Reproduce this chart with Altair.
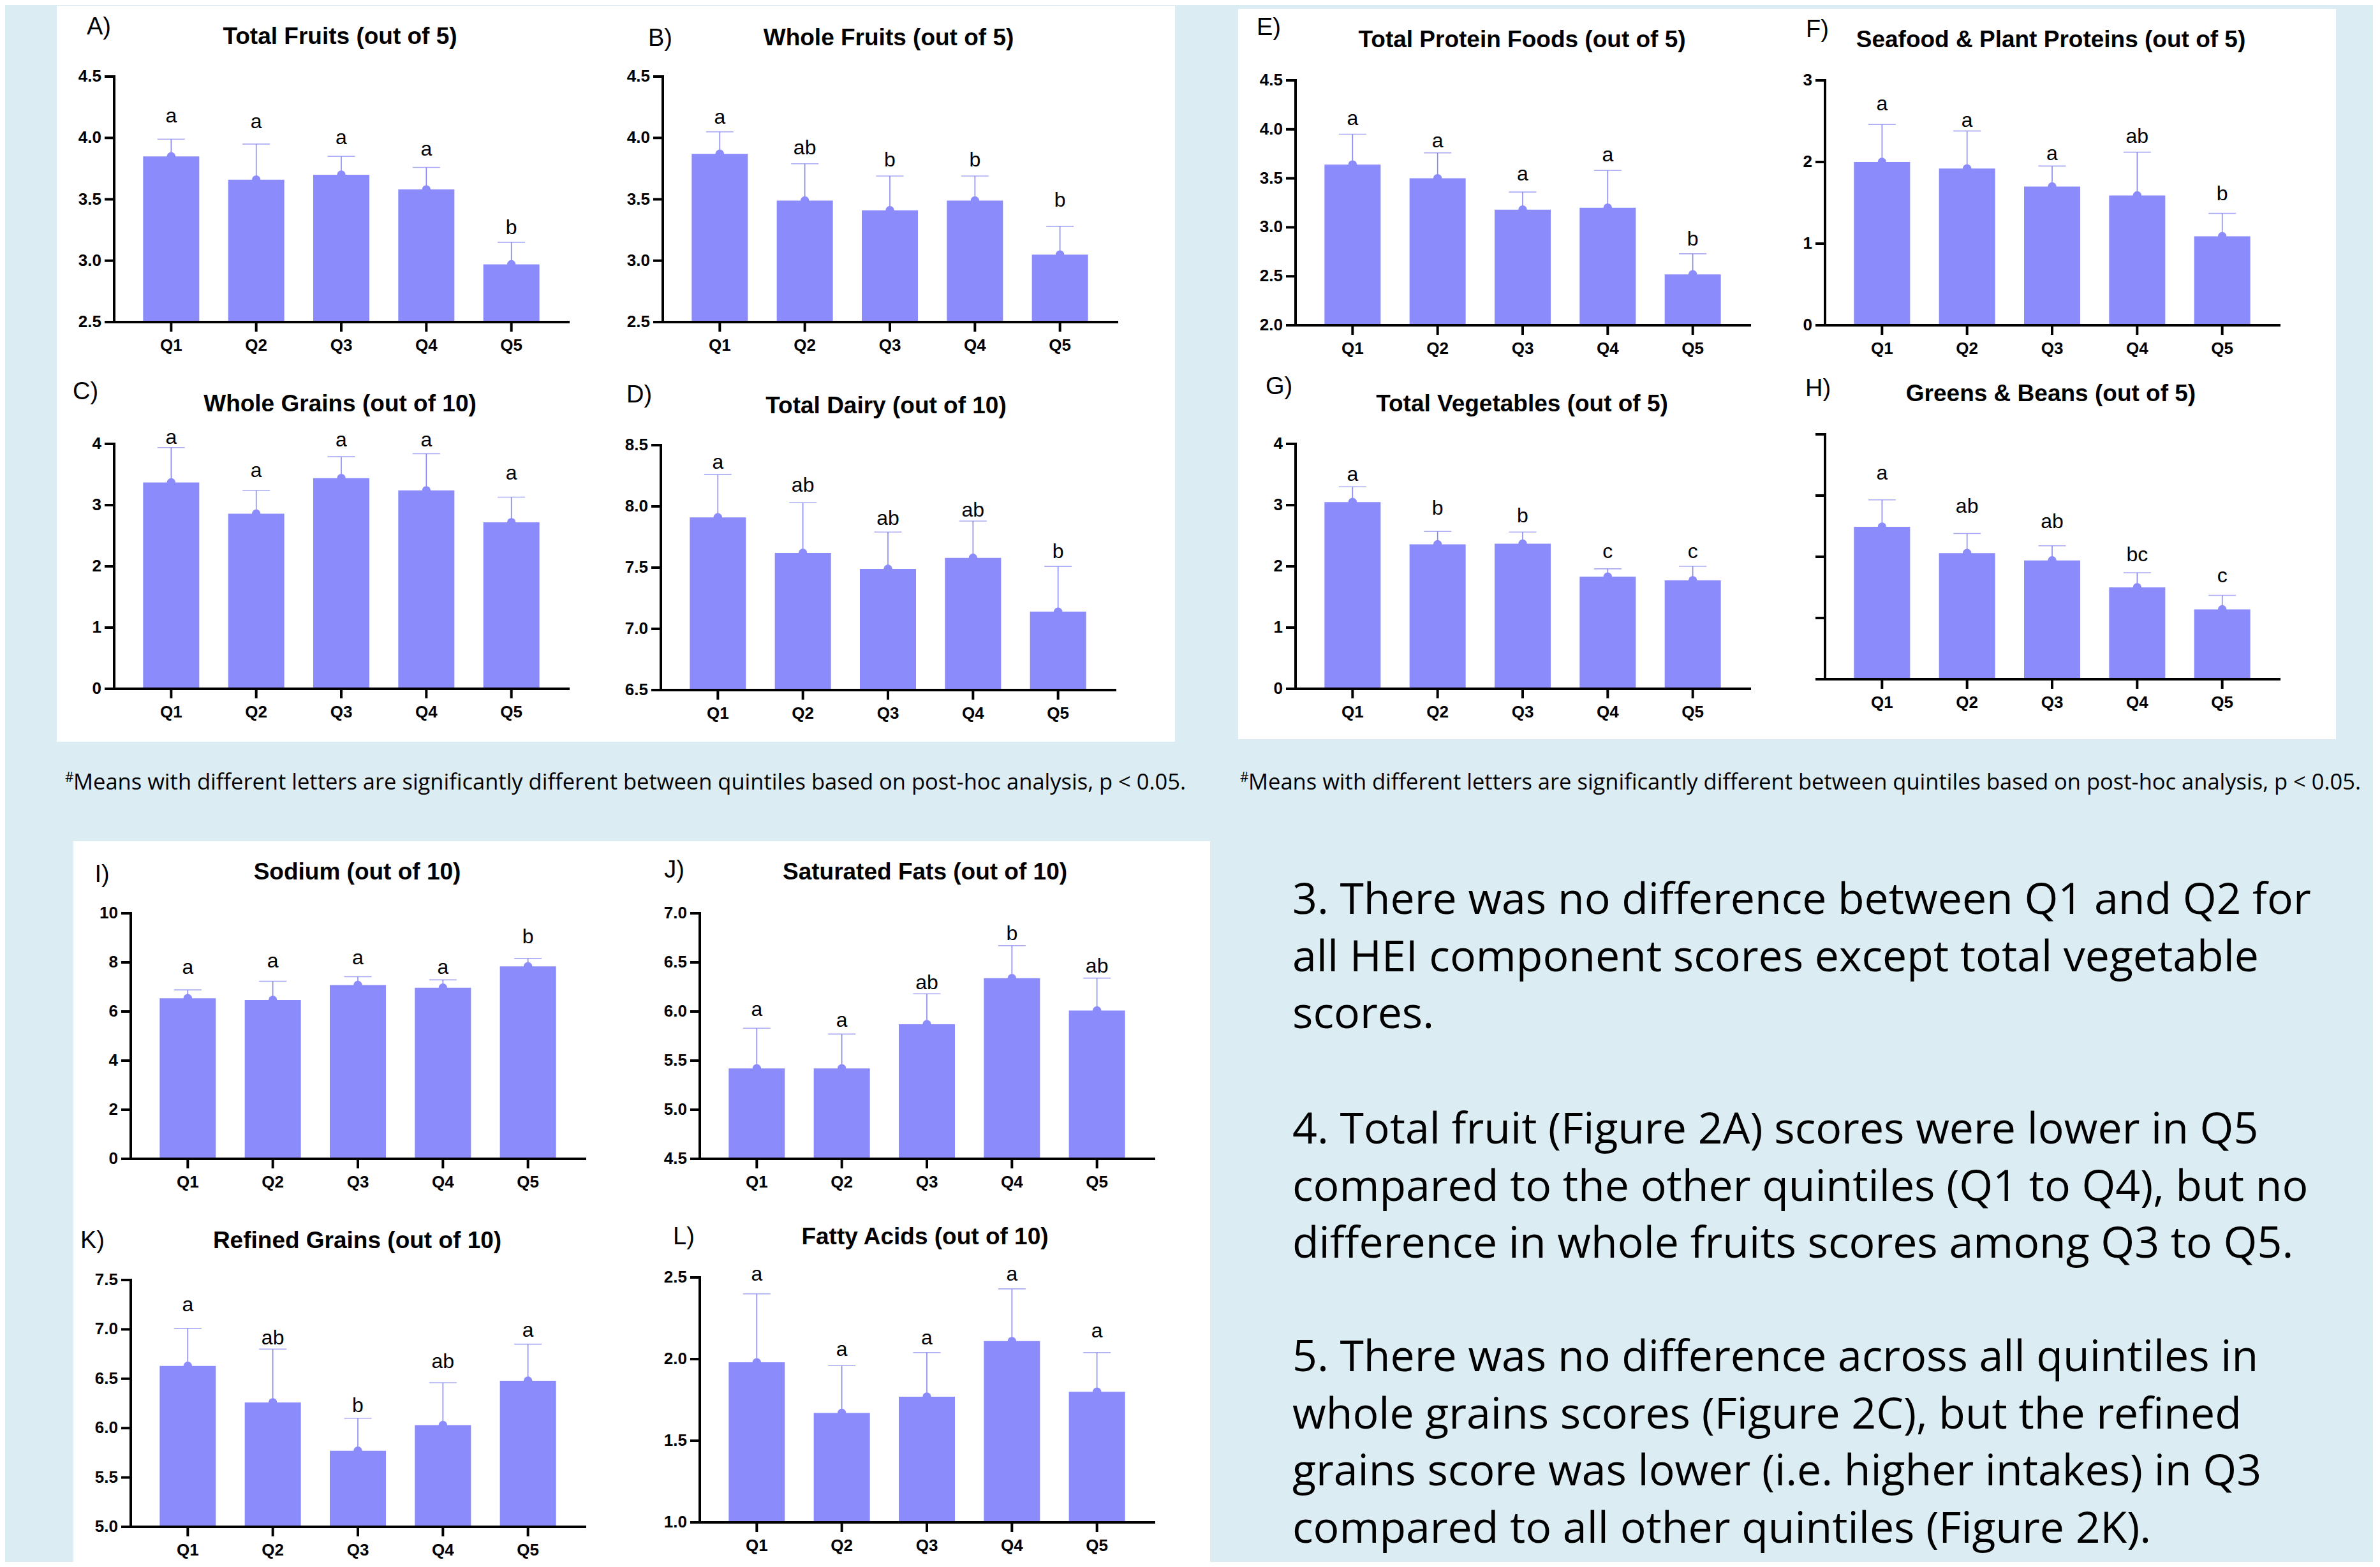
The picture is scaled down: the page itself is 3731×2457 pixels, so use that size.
import altair as alt
import pandas as pd

QUINTILES = ["Q1", "Q2", "Q3", "Q4", "Q5"]

# ---- data (means, top of error bar, letter, letter height) ----
A_title = "Total Fruits (out of 5)"
A_means = [3.85, 3.66, 3.70, 3.58, 2.97]
A_caps = [3.99, 3.95, 3.85, 3.76, 3.15]
A_letters = ["a", "a", "a", "a", "b"]
A_letter_y = [4.18, 4.13, 4.00, 3.91, 3.27]

B_title = "Whole Fruits (out of 5)"
B_means = [3.87, 3.49, 3.41, 3.49, 3.05]
B_caps = [4.05, 3.79, 3.69, 3.69, 3.28]
B_letters = ["a", "ab", "b", "b", "b"]
B_letter_y = [4.17, 3.92, 3.82, 3.82, 3.49]

C_title = "Whole Grains (out of 10)"
C_means = [3.37, 2.86, 3.44, 3.24, 2.72]
C_caps = [3.94, 3.24, 3.79, 3.84, 3.13]
C_letters = ["a", "a", "a", "a", "a"]
C_letter_y = [4.10, 3.56, 4.06, 4.06, 3.52]

D_title = "Total Dairy (out of 10)"
D_means = [7.91, 7.62, 7.49, 7.58, 7.14]
D_caps = [8.26, 8.03, 7.79, 7.88, 7.51]
D_letters = ["a", "ab", "ab", "ab", "b"]
D_letter_y = [8.36, 8.17, 7.90, 7.97, 7.63]

E_title = "Total Protein Foods (out of 5)"
E_means = [3.64, 3.50, 3.18, 3.20, 2.52]
E_caps = [3.95, 3.76, 3.36, 3.58, 2.73]
E_letters = ["a", "a", "a", "a", "b"]
E_letter_y = [4.11, 3.88, 3.54, 3.74, 2.88]

F_title = "Seafood & Plant Proteins (out of 5)"
F_means = [2.00, 1.92, 1.70, 1.59, 1.09]
F_caps = [2.46, 2.38, 1.95, 2.12, 1.37]
F_letters = ["a", "a", "a", "ab", "b"]
F_letter_y = [2.71, 2.51, 2.10, 2.31, 1.61]

G_title = "Total Vegetables (out of 5)"
G_means = [3.05, 2.36, 2.37, 1.83, 1.77]
G_caps = [3.30, 2.57, 2.56, 1.96, 2.00]
G_letters = ["a", "b", "b", "c", "c"]
G_letter_y = [3.50, 2.95, 2.82, 2.24, 2.24]

H_title = "Greens & Beans (out of 5)"
H_means = [2.49, 2.06, 1.94, 1.50, 1.14]
H_caps = [2.93, 2.38, 2.18, 1.74, 1.37]
H_letters = ["a", "ab", "ab", "bc", "c"]
H_letter_y = [3.36, 2.82, 2.57, 2.03, 1.69]

I_title = "Sodium (out of 10)"
I_means = [6.54, 6.47, 7.08, 6.97, 7.84]
I_caps = [6.88, 7.23, 7.42, 7.29, 8.16]
I_letters = ["a", "a", "a", "a", "b"]
I_letter_y = [7.79, 8.05, 8.18, 7.79, 9.05]

J_title = "Saturated Fats (out of 10)"
J_means = [5.42, 5.42, 5.87, 6.34, 6.01]
J_caps = [5.83, 5.77, 6.18, 6.67, 6.34]
J_letters = ["a", "a", "ab", "b", "ab"]
J_letter_y = [6.02, 5.91, 6.29, 6.79, 6.46]

K_title = "Refined Grains (out of 10)"
K_means = [6.63, 6.26, 5.77, 6.03, 6.48]
K_caps = [7.01, 6.80, 6.10, 6.46, 6.85]
K_letters = ["a", "ab", "b", "ab", "a"]
K_letter_y = [7.25, 6.91, 6.23, 6.67, 6.99]

L_title = "Fatty Acids (out of 10)"
L_means = [1.98, 1.67, 1.77, 2.11, 1.80]
L_caps = [2.40, 1.96, 2.04, 2.43, 2.04]
L_letters = ["a", "a", "a", "a", "a"]
L_letter_y = [2.52, 2.06, 2.13, 2.52, 2.17]

FOOTNOTE = "Means with different letters are significantly different between quintiles based on post-hoc analysis, p < 0.05."
PARAGRAPH_3 = [
    "3. There was no difference between Q1 and Q2 for",
    "all HEI component scores except total vegetable",
    "scores.",
]
PARAGRAPH_4 = [
    "4. Total fruit (Figure 2A) scores were lower in Q5",
    "compared to the other quintiles (Q1 to Q4), but no",
    "difference in whole fruits scores among Q3 to Q5.",
]
PARAGRAPH_5 = [
    "5. There was no difference across all quintiles in",
    "whole grains scores (Figure 2C), but the refined",
    "grains score was lower (i.e. higher intakes) in Q3",
    "compared to all other quintiles (Figure 2K).",
]

# ---- styling / layout (page pixels) ----
BAR = "#8B8BFB"
ERR = "#8787F2"
BG = "#DBEDF3"
FONT = "Liberation Sans"
TEXT_FONT = "Open Sans"
M = 8                      # page margin
VW, VH = 3712, 2441        # whole view
PW = 712                   # plot width of one panel

# plot-area left x, top y, bottom y of every panel
GEOM = {
    "A": (179, 120, 505), "B": (1039, 120, 505),
    "C": (179, 696, 1080), "D": (1036, 698, 1082),
    "E": (2031, 126, 510), "F": (2861, 126, 510),
    "G": (2031, 696, 1080), "H": (2861, 681, 1065),
    "I": (205, 1432, 1817), "J": (1097, 1432, 1817),
    "K": (205, 2007, 2394), "L": (1097, 2003, 2387),
}
# panel tag and title centres
TAG_POS = {"A": (155, 43), "B": (1035, 61), "C": (134, 615), "D": (1002, 620),
           "E": (1989, 44), "F": (2849, 47), "G": (2005, 607), "H": (2850, 610),
           "I": (160, 1372), "J": (1057, 1365), "K": (145, 1946), "L": (1072, 1940)}
TITLE_POS = {"A": (533, 58), "B": (1393, 60), "C": (533, 634), "D": (1389, 637),
             "E": (2386, 63), "F": (3215, 63), "G": (2386, 634), "H": (3215, 618),
             "I": (560, 1368), "J": (1450, 1368), "K": (560, 1946), "L": (1450, 1940)}


def const_text(text, x, y, size, weight="normal", align="center", baseline="middle", font=FONT, **kw):
    return alt.Chart(pd.DataFrame({"t": [text]})).mark_text(
        font=font, fontSize=size, fontWeight=weight, align=align, baseline=baseline,
        color="black", **kw
    ).encode(text="t:N", x=alt.value(x - M), y=alt.value(y - M))


def const_rect(x1, x2, y1, y2, color):
    return alt.Chart(pd.DataFrame({"k": [0]})).mark_rect(color=color, strokeWidth=0).encode(
        x=alt.value(x1 - M), x2=alt.value(x2 - M), y=alt.value(y1 - M), y2=alt.value(y2 - M)
    )


def panel(key, title, means, caps, letters, letter_y, lo, hi, ticks, fmt, show_labels=True):
    px, pt, pb = GEOM[key]
    x0, x1, yt, yb = px - M, px - M + PW, pt - M, pb - M
    df = pd.DataFrame({"q": QUINTILES, "mean": means, "cap": caps,
                       "letter": letters, "ly": letter_y})
    base = alt.Chart(df)
    xs = alt.Scale(domain=QUINTILES, range=[x0, x1], paddingInner=0.34, paddingOuter=0.34)
    ys = alt.Scale(domain=[lo, hi], range=[yb, yt], nice=False, zero=False)
    X = alt.X("q:N", scale=xs, axis=None)

    def Y(field):
        return alt.Y(field, scale=ys, axis=None)

    bars = base.mark_bar(color=BAR).encode(x=X, y=Y("mean:Q"), y2=alt.datum(lo))
    rule = base.mark_rule(color=ERR, strokeWidth=1.6).encode(x=X, y=Y("mean:Q"), y2="cap:Q")
    cap = base.mark_tick(color=ERR, thickness=1.6, size=43, orient="horizontal").encode(x=X, y=Y("cap:Q"))
    dot = base.mark_circle(color=BAR, size=180, opacity=1).encode(x=X, y=Y("mean:Q"))
    lett = base.mark_text(font=FONT, fontSize=32, baseline="middle", color="black").encode(
        x=X, y=Y("ly:Q"), text="letter:N")

    # axes drawn through the panel's scales
    ext = alt.Chart(pd.DataFrame({"lo": [lo], "hi": [hi]}))
    yline = ext.mark_rule(color="black", strokeWidth=4, strokeCap="square").encode(
        x=alt.value(x0), y=Y("lo:Q"), y2="hi:Q")
    xline = ext.mark_rule(color="black", strokeWidth=4, strokeCap="square").encode(
        x=alt.value(x0), x2=alt.value(x1), y=Y("lo:Q"))
    tdf = pd.DataFrame({"v": ticks, "lab": [format(v, fmt) for v in ticks]})
    tk = alt.Chart(tdf)
    yticks = tk.mark_rule(color="black", strokeWidth=4).encode(
        x=alt.value(x0 - 15), x2=alt.value(x0), y=Y("v:Q"))
    ylabels = tk.mark_text(font=FONT, fontSize=26, fontWeight="bold", align="right",
                           baseline="middle", color="black").encode(
        x=alt.value(x0 - 20), y=Y("v:Q"), text="lab:N")
    xticks = base.mark_rule(color="black", strokeWidth=4).encode(
        x=X, y=alt.value(yb), y2=alt.value(yb + 15))
    xlabels = base.mark_text(font=FONT, fontSize=26, fontWeight="bold", baseline="middle",
                             color="black").encode(x=X, y=alt.value(yb + 37), text="q:N")

    ttl = const_text(title, *TITLE_POS[key], 37, weight="bold")
    tg = const_text(key + ")", *TAG_POS[key], 38)
    layers = [bars, rule, cap, dot, lett, yticks, yline, xticks, xline, xlabels, ttl, tg]
    if show_labels:
        layers.insert(6, ylabels)
    return alt.layer(*layers)


t05 = lambda a, b: [round(a + 0.5 * i, 1) for i in range(int(round((b - a) / 0.5)) + 1)]

panels = [
    panel("A", A_title, A_means, A_caps, A_letters, A_letter_y, 2.5, 4.5, t05(2.5, 4.5), ".1f"),
    panel("B", B_title, B_means, B_caps, B_letters, B_letter_y, 2.5, 4.5, t05(2.5, 4.5), ".1f"),
    panel("C", C_title, C_means, C_caps, C_letters, C_letter_y, 0, 4, [0, 1, 2, 3, 4], "d"),
    panel("D", D_title, D_means, D_caps, D_letters, D_letter_y, 6.5, 8.5, t05(6.5, 8.5), ".1f"),
    panel("E", E_title, E_means, E_caps, E_letters, E_letter_y, 2.0, 4.5, t05(2.0, 4.5), ".1f"),
    panel("F", F_title, F_means, F_caps, F_letters, F_letter_y, 0, 3, [0, 1, 2, 3], "d"),
    panel("G", G_title, G_means, G_caps, G_letters, G_letter_y, 0, 4, [0, 1, 2, 3, 4], "d"),
    panel("H", H_title, H_means, H_caps, H_letters, H_letter_y, 0, 4, [0, 1, 2, 3, 4], "d",
          show_labels=False),
    panel("I", I_title, I_means, I_caps, I_letters, I_letter_y, 0, 10, [0, 2, 4, 6, 8, 10], "d"),
    panel("J", J_title, J_means, J_caps, J_letters, J_letter_y, 4.5, 7.0, t05(4.5, 7.0), ".1f"),
    panel("K", K_title, K_means, K_caps, K_letters, K_letter_y, 5.0, 7.5, t05(5.0, 7.5), ".1f"),
    panel("L", L_title, L_means, L_caps, L_letters, L_letter_y, 1.0, 2.5, t05(1.0, 2.5), ".1f"),
]

blocks = [
    const_rect(89, 1842, 9, 1163, "white"),
    const_rect(1941, 3662, 14, 1159, "white"),
    const_rect(115, 1897, 1319, 2460, "white"),
]

LINE_H = 89.5
notes = [
    const_text("#", 102, 1226, 21, align="left", baseline="alphabetic", font=TEXT_FONT),
    const_text(FOOTNOTE, 115, 1238, 34.5, align="left", baseline="alphabetic", font=TEXT_FONT),
    const_text("#", 1944, 1226, 21, align="left", baseline="alphabetic", font=TEXT_FONT),
    const_text(FOOTNOTE, 1957, 1238, 34.5, align="left", baseline="alphabetic", font=TEXT_FONT),
]
for para, y0 in ((PARAGRAPH_3, 1433), (PARAGRAPH_4, 1793), (PARAGRAPH_5, 2150)):
    notes.append(const_text("\n".join(para), 2026, y0, 68, align="left", baseline="alphabetic",
                            font=TEXT_FONT, lineBreak="\n", lineHeight=LINE_H))

chart = alt.layer(*blocks, *panels, *notes).resolve_scale(
    x="independent", y="independent"
).properties(
    width=VW, height=VH, padding=0, background=BG,
    autosize=alt.AutoSizeParams(type="none"),
).configure_view(stroke="transparent")

chart.save("out.html", embed_options={"renderer": "svg", "actions": False})
